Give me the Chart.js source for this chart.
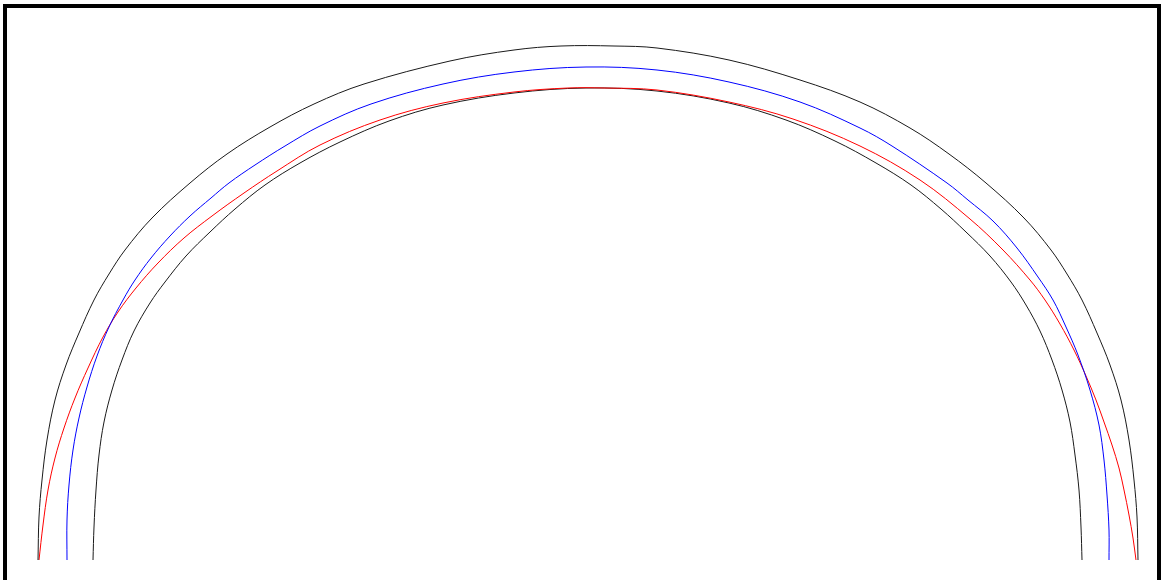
<!DOCTYPE html>
<html>
<head>
<meta charset="utf-8">
<script src="https://cdn.jsdelivr.net/npm/chart.js@4"></script>
<style>
    html, body { margin: 0; padding: 0; background: #fff; overflow: hidden; }
    #frame {
        position: absolute; left: 3px; top: 4px;
        width: 1150px; height: 572px;
        border-left: 4px solid #000; border-top: 4px solid #000; border-right: 4px solid #000;
    }
    #chart { position: absolute; left: 0; top: 0; }
</style>
</head>
<body>
<div id="frame"></div>
<canvas id="chart" width="1161" height="580"></canvas>
<script>
// Outer black profile (x position, height above base)
const outerX = [38, 39, 42, 47, 55, 66, 79, 94, 109, 125, 152, 190, 227, 270, 314, 364, 450, 514, 561, 614, 657, 729, 800, 860, 910, 949, 986, 1024, 1051, 1067, 1082, 1097, 1110, 1121, 1129, 1134, 1137, 1138];
const outerY = [2, 45, 82, 122, 162, 197, 229, 262, 288, 312, 344, 379, 408, 435, 458, 478, 501, 512, 516, 516, 514, 502, 482, 460, 434, 408, 379, 344, 312, 288, 262, 229, 197, 162, 122, 82, 45, 2];

// Blue profile
const blueX = [67, 67, 69, 73, 79, 87, 97, 109, 123, 135, 151, 170, 190, 211, 229, 255, 285, 320, 371, 443, 514, 586, 657, 729, 800, 860, 892, 947, 968, 993, 1017, 1038, 1053, 1066, 1078, 1090, 1099, 1104, 1107, 1109, 1109];
const blueY = [2, 42, 77, 112, 144, 175, 206, 235, 262, 282, 304, 326, 346, 364, 379, 397, 416, 436, 458, 478, 490, 495, 492, 480, 460, 434, 416, 379, 362, 341, 314, 285, 262, 235, 207, 172, 137, 102, 67, 32, 2];

// Red profile
const redX = [39, 43, 48, 55, 64, 75, 88, 103, 118, 136, 158, 184, 212, 244, 277, 320, 380, 443, 514, 568, 604, 657, 729, 793, 860, 920, 970, 1003, 1030, 1045, 1060, 1074, 1086, 1096, 1104, 1112, 1119, 1124, 1129, 1133, 1136];
const redY = [2, 37, 72, 104, 134, 164, 194, 225, 250, 274, 299, 324, 346, 369, 391, 417, 442, 459, 470, 474, 474, 472, 460, 443, 416, 382, 343, 312, 282, 262, 238, 212, 186, 162, 140, 117, 94, 72, 47, 24, 2];

// Inner black profile
const innerX = [93, 94, 96, 99, 104, 112, 122, 134, 150, 165, 186, 210, 235, 265, 300, 340, 389, 443, 514, 586, 657, 729, 786, 835, 876, 911, 941, 966, 990, 1011, 1026, 1040, 1052, 1062, 1070, 1075, 1079, 1081, 1082];
const innerY = [2, 35, 72, 107, 140, 172, 202, 231, 259, 280, 306, 330, 353, 377, 399, 420, 441, 457, 469, 474, 471, 459, 442, 421, 399, 377, 353, 330, 306, 280, 257, 231, 202, 172, 140, 107, 72, 35, 2];

const toPoints = (xs, ys) => xs.map((x, i) => ({ x, y: ys[i] }));

const profile = (label, xs, ys, color) => ({
    label,
    data: toPoints(xs, ys),
    borderColor: color,
    borderWidth: 1,
    pointRadius: 0,
    showLine: true,
    fill: false,
    tension: 0.35
});

new Chart(document.getElementById('chart'), {
    type: 'scatter',
    data: {
        datasets: [
            profile('Outer', outerX, outerY, '#1a1a1a'),
            profile('Blue', blueX, blueY, '#0000ff'),
            profile('Red', redX, redY, '#ff0000'),
            profile('Inner', innerX, innerY, '#1a1a1a')
        ]
    },
    options: {
        responsive: false,
        animation: false,
        layout: { padding: 0 },
        plugins: { legend: { display: false }, tooltip: { enabled: false } },
        scales: {
            x: { type: 'linear', display: false, min: 0, max: 1161 },
            y: { type: 'linear', display: false, min: -18, max: 562 }
        }
    }
});
</script>
</body>
</html>
